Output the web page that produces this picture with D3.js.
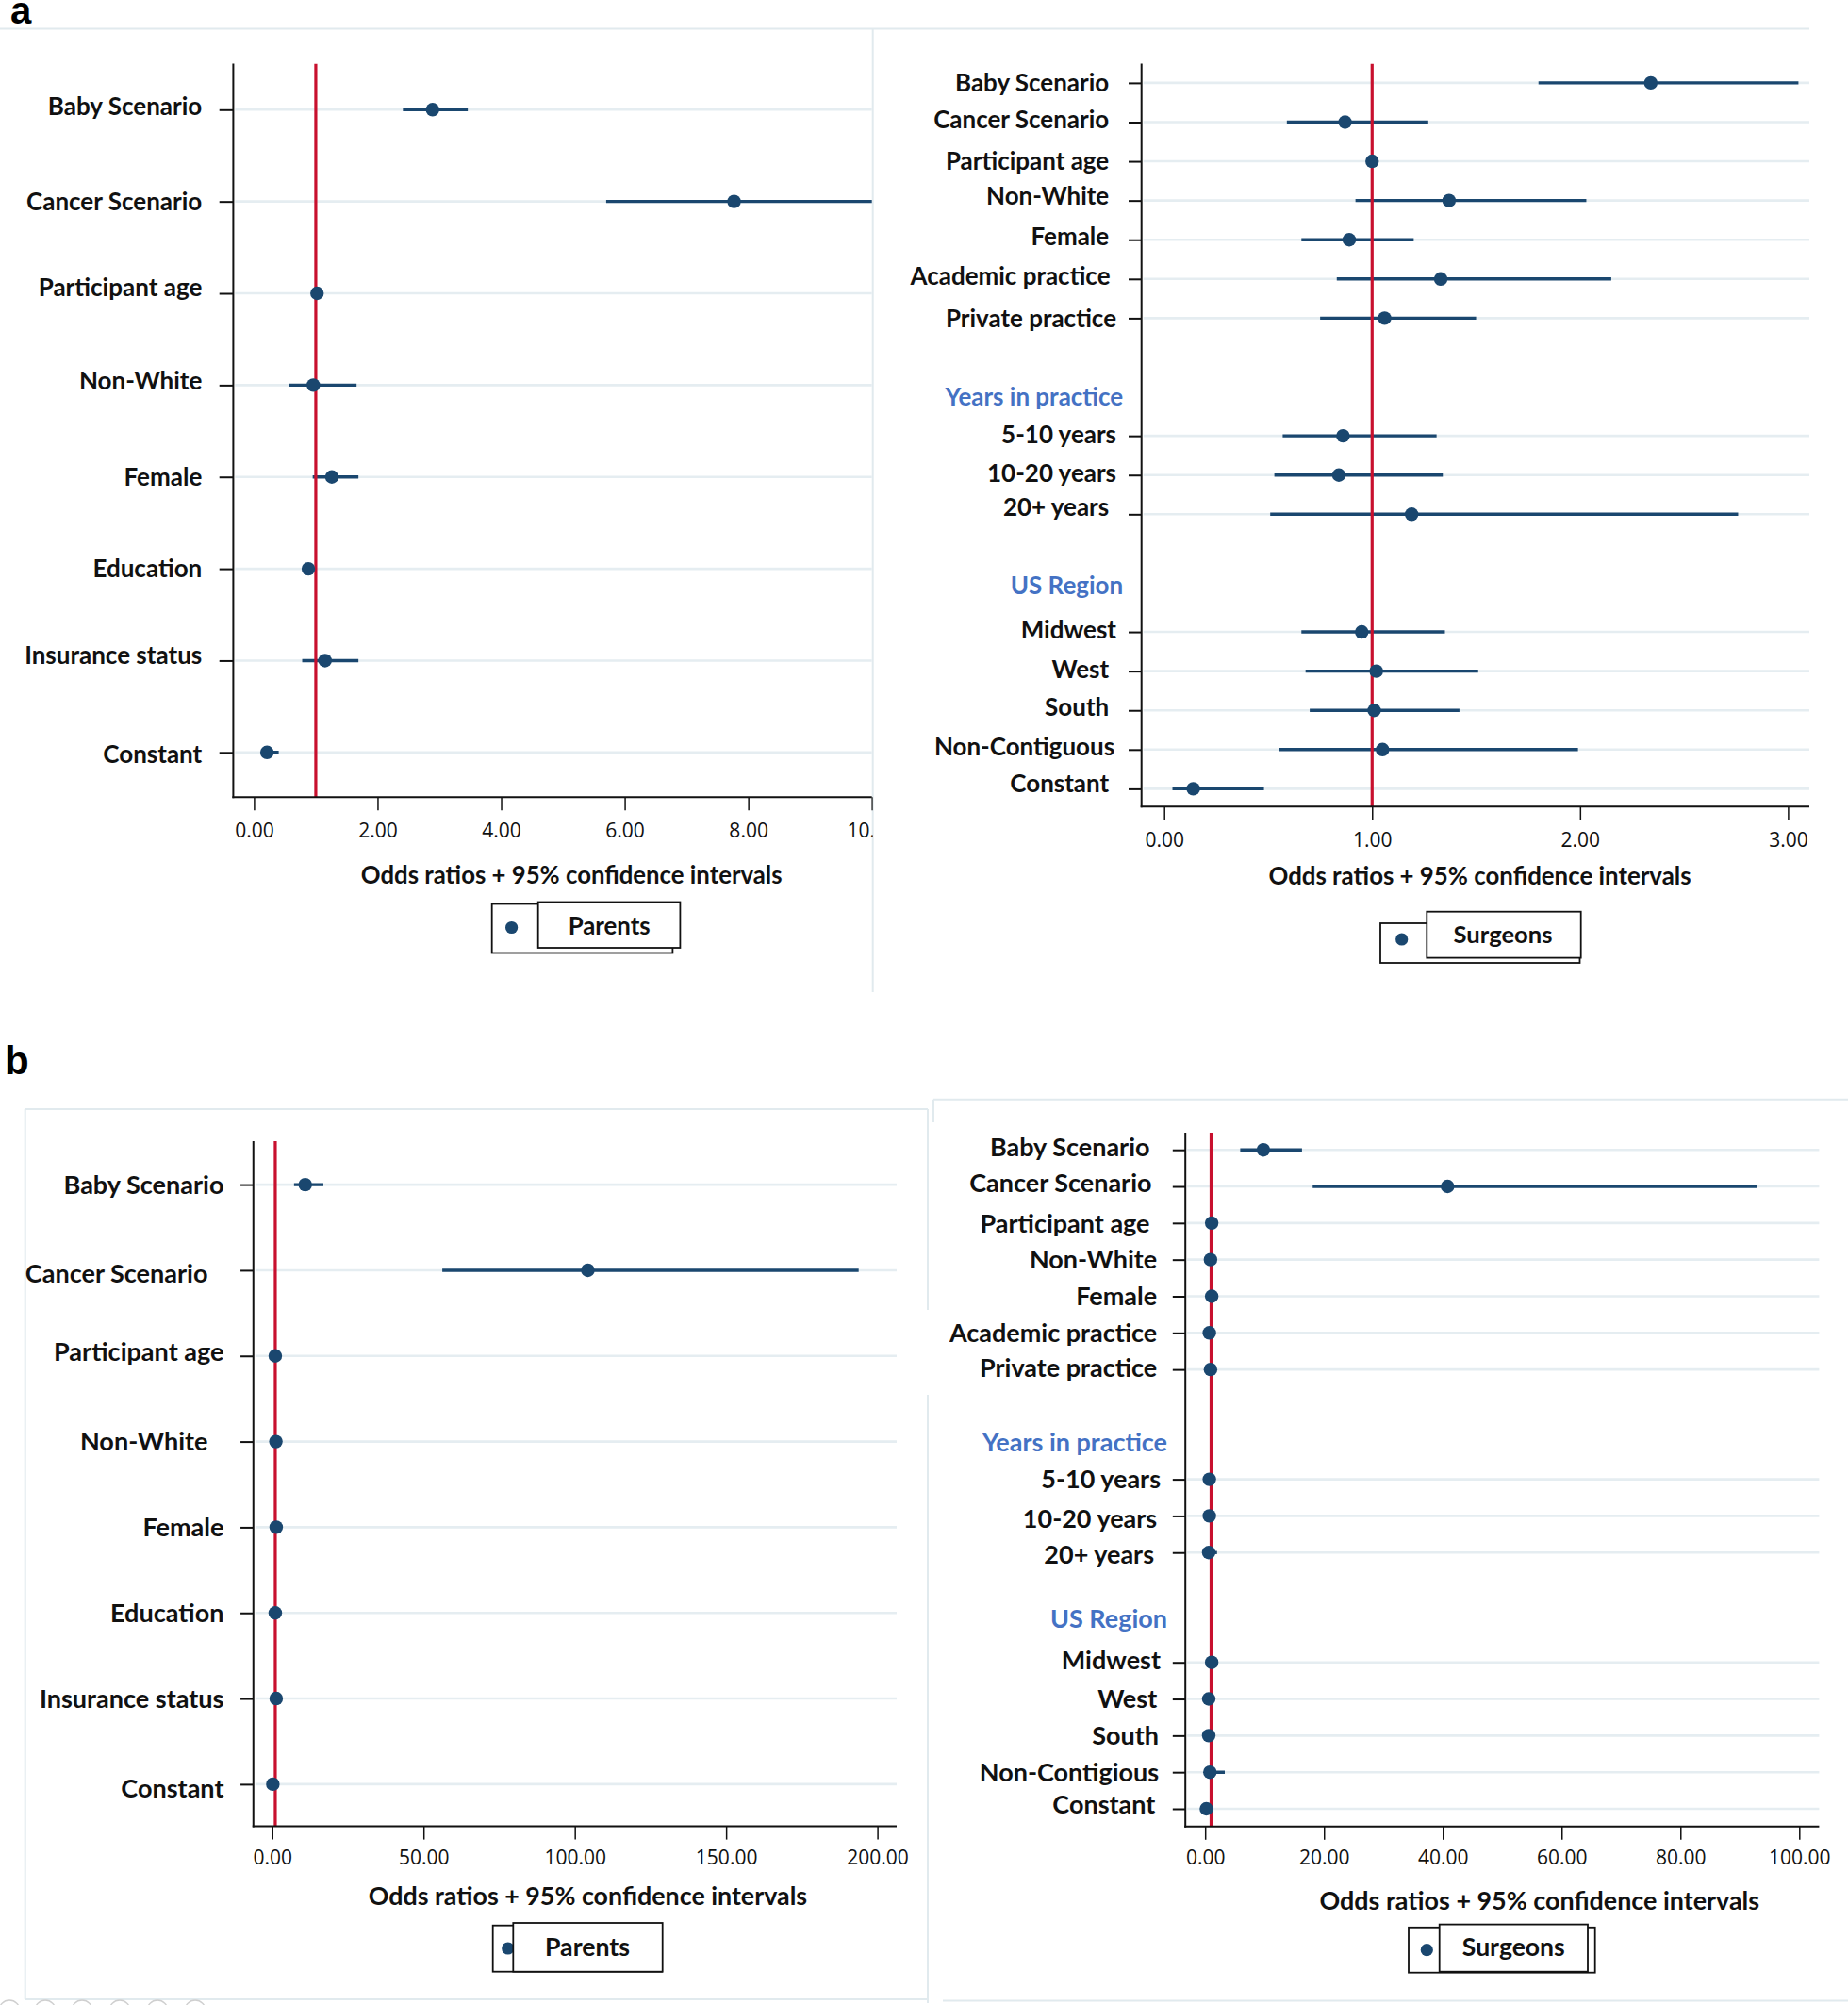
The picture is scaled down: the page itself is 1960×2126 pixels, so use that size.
<!DOCTYPE html>
<html>
<head>
<meta charset="utf-8">
<script src="https://cdn.jsdelivr.net/npm/d3@7"></script>
<style>
  html, body { margin: 0; padding: 0; background: #ffffff; }
  svg { display: block; }
</style>
</head>
<body>
<script>
// ---------------- DATA ----------------
const parentsLabels = ["Baby Scenario", "Cancer Scenario", "Participant age", "Non-White", "Female", "Education", "Insurance status", "Constant"];

// Panel a (Parents)
const parentsA_or = [2.89, 7.77, 1.02, 0.96, 1.26, 0.88, 1.15, 0.21];
const parentsA_lo = [2.41, 5.70, 0.99, 0.57, 0.95, 0.80, 0.78, 0.12];
const parentsA_hi = [3.46, 10.60, 1.05, 1.66, 1.69, 0.96, 1.69, 0.40];
const parentsA_ticks = [0, 2, 4, 6, 8, 10];

// Panel b (Parents)
const parentsB_or = [10.9, 104.3, 1.0, 1.2, 1.3, 1.0, 1.3, 0.2];
const parentsB_lo = [7.2, 56.2, 0.9, 0.7, 0.9, 0.8, 0.8, 0.1];
const parentsB_hi = [16.9, 193.8, 1.1, 2.0, 1.8, 1.2, 1.9, 0.5];
const parentsB_ticks = [0, 50, 100, 150, 200];

const surgeonsLabelsA = ["Baby Scenario", "Cancer Scenario", "Participant age", "Non-White", "Female", "Academic practice", "Private practice", "", "Years in practice", "5-10 years", "10-20 years", "20+ years", "", "US Region", "Midwest", "West", "South", "Non-Contiguous", "Constant"];
const surgeonsLabelsB = ["Baby Scenario", "Cancer Scenario", "Participant age", "Non-White", "Female", "Academic practice", "Private practice", "", "Years in practice", "5-10 years", "10-20 years", "20+ years", "", "US Region", "Midwest", "West", "South", "Non-Contigious", "Constant"];
const groupHeadings = ["Years in practice", "US Region"];

// Panel a (Surgeons)
const surgeonsA_or = [2.34, 0.87, 1.00, 1.37, 0.89, 1.33, 1.06, null, null, 0.86, 0.84, 1.19, null, null, 0.95, 1.02, 1.01, 1.05, 0.14];
const surgeonsA_lo = [1.80, 0.59, 0.98, 0.92, 0.66, 0.83, 0.75, null, null, 0.57, 0.53, 0.51, null, null, 0.66, 0.68, 0.70, 0.55, 0.04];
const surgeonsA_hi = [3.05, 1.27, 1.02, 2.03, 1.20, 2.15, 1.50, null, null, 1.31, 1.34, 2.76, null, null, 1.35, 1.51, 1.42, 1.99, 0.48];
const surgeonsA_ticks = [0, 1, 2, 3];

// Panel b (Surgeons)
const surgeonsB_or = [9.8, 40.8, 1.1, 0.9, 1.1, 0.7, 0.9, null, null, 0.7, 0.7, 0.6, null, null, 1.1, 0.6, 0.6, 0.8, 0.2];
const surgeonsB_lo = [5.9, 18.1, 0.9, 0.5, 0.7, 0.4, 0.5, null, null, 0.4, 0.4, 0.2, null, null, 0.6, 0.3, 0.3, 0.3, 0.05];
const surgeonsB_hi = [16.3, 92.9, 1.3, 1.6, 1.6, 1.3, 1.6, null, null, 1.2, 1.2, 2.0, null, null, 1.8, 1.2, 1.2, 3.3, 0.6];
const surgeonsB_ticks = [0, 20, 40, 60, 80, 100];

const referenceOR = 1;
const axisTitle = "Odds ratios + 95% confidence intervals";

// ---------------- STYLE ----------------
const NAVY = "#1a476f";
const RED = "#c8102e";
const GRID = "#e5edf1";
const FAINT = "#e1eaee";
const HEAD = "#4472c4";
const LABEL_FONT = "Lato, 'Open Sans', sans-serif";
const TICK_FONT = "'Open Sans', 'DejaVu Sans', sans-serif";

const W = 1960, H = 2126;
const svg = d3.select("body").append("svg").attr("width", W).attr("height", H);
svg.append("rect").attr("width", W).attr("height", H).attr("fill", "#fff");

// faint frame lines of the original figure
const frame = svg.append("g").attr("stroke", FAINT).attr("stroke-width", 2).attr("fill", "none");
[
  [0, 30.5, 1919, 30.5],
  [925.7, 31, 925.7, 1052],
  [26.7, 1176, 984, 1176],
  [26.7, 1176, 26.7, 2120],
  [26.7, 2120, 984, 2120],
  [984, 1176, 984, 1389],
  [984, 1479, 984, 2124],
  [990, 1165.7, 1960, 1165.7],
  [990, 1165.7, 990, 1190],
  [1000, 2121.5, 1960, 2121.5]
].forEach(s => frame.append("line").attr("x1", s[0]).attr("y1", s[1]).attr("x2", s[2]).attr("y2", s[3]));
// partial circles at the bottom-left edge
[10, 48, 87, 127, 167, 207].forEach(cx => {
  svg.append("circle").attr("cx", cx).attr("cy", 2132).attr("r", 11)
    .attr("fill", "none").attr("stroke", "#cfcfcf").attr("stroke-width", 1.3);
});

// panel letters
svg.append("text").attr("x", 11).attr("y", 25).text("a")
  .attr("font-family", "'Liberation Sans', Arial, sans-serif").attr("font-weight", "bold").attr("font-size", 40).attr("fill", "#000");
svg.append("text").attr("x", 5).attr("y", 1138.5).text("b")
  .attr("font-family", "'Liberation Sans', Arial, sans-serif").attr("font-weight", "bold").attr("font-size", 42).attr("fill", "#000");

// measure helper: font size so that text reaches target width
const meas = svg.append("text").attr("font-family", LABEL_FONT).attr("font-weight", "bold").attr("font-size", 100).attr("x", -5000).attr("y", -5000);
function fitSize(str, target) {
  meas.text(str);
  const w = meas.node().getComputedTextLength();
  return 100 * target / w;
}

const panels = [
  {
    id: "aL", labels: parentsLabels, or: parentsA_or, lo: parentsA_lo, hi: parentsA_hi, ticks: parentsA_ticks, domain: [0, 10], legend: "Parents",
    L: {
      yAxisX: 247.4, x0: 269.4, x1: 924.7, right: 924.7, top: 67.6, bottom: 845.2, yFirst: 116.3, yLast: 797.8,
      labelRight: 214.3, labelW: 163.5, tickLen: 14.7, tickBase: 888.3, titleCx: 606.2, titleBase: 937, titleW: 447,
      clip: [0, 0, 925.7, 1060],
      leg: { outer: [521.7, 958.5, 713.4, 1010.5], inner: [570.7, 956.5, 721.4, 1005], dot: [542.6, 983.5], tx: 646.2, ty: 991, tw: 87 },
      dx: {}, dy: { "Baby Scenario": -3.4, "Participant age": -6.8, "Non-White": -4.7, "Insurance status": -5.4, "Constant": 1.4 }
    }
  },
  {
    id: "aR", labels: surgeonsLabelsA, or: surgeonsA_or, lo: surgeonsA_lo, hi: surgeonsA_hi, ticks: surgeonsA_ticks, domain: [0, 3], legend: "Surgeons",
    L: {
      yAxisX: 1210.7, x0: 1234.7, x1: 1896.4, right: 1919, top: 67.6, bottom: 855.3, yFirst: 87.9, yLast: 836.4,
      labelRight: 1176.2, labelW: 163.3, tickLen: 13.7, tickBase: 898.3, titleCx: 1569.5, titleBase: 937.5, titleW: 448.3,
      clip: null,
      leg: { outer: [1464, 979, 1675.5, 1021], inner: [1513.3, 966.7, 1676.7, 1015.6], dot: [1486.7, 996], tx: 1594, ty: 1000, tw: 105 },
      dx: { "Academic practice": 1.3, "Private practice": 7.8, "Years in practice": 15, "5-10 years": 7.8, "10-20 years": 7.8, "US Region": 15, "Midwest": 7.8, "Non-Contiguous": 5.9 },
      dy: { "Cancer Scenario": -2.7, "Non-White": -4.7, "Female": -4, "Academic practice": -2.7, "5-10 years": -2, "10-20 years": -2, "20+ years": -7.4, "US Region": -8, "Midwest": -2, "West": -2, "South": -3.4, "Non-Contiguous": -2.7, "Constant": -6 }
    }
  },
  {
    id: "bL", labels: parentsLabels, or: parentsB_or, lo: parentsB_lo, hi: parentsB_hi, ticks: parentsB_ticks, domain: [0, 200], legend: "Parents",
    L: {
      yAxisX: 268.75, x0: 288.75, x1: 930.6, right: 951, top: 1210, bottom: 1936.6, yFirst: 1256.1, yLast: 1891.9,
      labelRight: 237.5, labelW: 170, tickLen: 13.7, tickBase: 1977.3, titleCx: 623.4, titleBase: 2019.5, titleW: 465.6,
      clip: null,
      leg: { outer: [522.7, 2041.7, 702, 2090.7], inner: [544.3, 2039, 702.7, 2090.7], dot: [538.75, 2066], tx: 623, ty: 2074, tw: 90 },
      dx: { "Cancer Scenario": -17, "Non-White": -17 },
      dy: { "Cancer Scenario": 3.3, "Participant age": -4, "Constant": 4.7 }
    }
  },
  {
    id: "bR", labels: surgeonsLabelsB, or: surgeonsB_or, lo: surgeonsB_lo, hi: surgeonsB_hi, ticks: surgeonsB_ticks, domain: [0, 100], legend: "Surgeons",
    L: {
      yAxisX: 1257.2, x0: 1278.2, x1: 1908.3, right: 1929.4, top: 1201, bottom: 1936.8, yFirst: 1219.2, yLast: 1918,
      labelRight: 1227.2, labelW: 169.6, tickLen: 13.4, tickBase: 1977.5, titleCx: 1632.8, titleBase: 2025, titleW: 466.8,
      clip: null,
      leg: { outer: [1494, 2043.8, 1691.7, 2091.7], inner: [1526.7, 2040.6, 1684, 2090.7], dot: [1513.3, 2067.7], tx: 1605.3, ty: 2074.3, tw: 109 },
      dx: { "Baby Scenario": -7.7, "Cancer Scenario": -5.7, "Participant age": -7.7, "Years in practice": 10.8, "5-10 years": 3.8, "20+ years": -3.2, "US Region": 10.8, "Midwest": 3.8, "South": 1.9, "Non-Contigious": 1.9, "Constant": -1.9 },
      dy: { "Baby Scenario": -2.5, "Cancer Scenario": -3.8, "Private practice": -2, "10-20 years": 3, "20+ years": 2, "US Region": -8, "Midwest": -2.5, "Constant": -4.4 }
    }
  }
];

function drawPanel(p) {
  const L = p.L;
  let g = svg.append("g");
  if (L.clip) {
    svg.append("clipPath").attr("id", "pc-" + p.id).append("rect")
      .attr("x", L.clip[0]).attr("y", L.clip[1]).attr("width", L.clip[2] - L.clip[0]).attr("height", L.clip[3] - L.clip[1]);
    g.attr("clip-path", `url(#pc-${p.id})`);
  }
  svg.append("clipPath").attr("id", "mc-" + p.id).append("rect")
    .attr("x", L.yAxisX).attr("y", L.top).attr("width", L.right - L.yAxisX).attr("height", L.bottom - L.top);

  const x = d3.scaleLinear().domain(p.domain).range([L.x0, L.x1]);
  const y = d3.scalePoint().domain(d3.range(p.labels.length)).range([L.yFirst, L.yLast]);

  const rows = p.labels.map((lab, i) => ({ lab, i, or: p.or[i], lo: p.lo[i], hi: p.hi[i] }));
  const dataRows = rows.filter(r => r.or != null);

  // gridlines
  g.append("g").selectAll("line").data(dataRows).join("line")
    .attr("x1", L.yAxisX + 2).attr("x2", L.right)
    .attr("y1", d => y(d.i)).attr("y2", d => y(d.i))
    .attr("stroke", GRID).attr("stroke-width", 2.6);

  const mg = g.append("g").attr("clip-path", `url(#mc-${p.id})`);
  // CI
  mg.append("g").selectAll("line").data(dataRows).join("line")
    .attr("x1", d => x(d.lo)).attr("x2", d => x(d.hi))
    .attr("y1", d => y(d.i)).attr("y2", d => y(d.i))
    .attr("stroke", NAVY).attr("stroke-width", 3.4);
  // reference line
  mg.append("line").attr("x1", x(referenceOR)).attr("x2", x(referenceOR))
    .attr("y1", L.top).attr("y2", L.bottom)
    .attr("stroke", RED).attr("stroke-width", 3.2);
  // points
  mg.append("g").selectAll("circle").data(dataRows).join("circle")
    .attr("cx", d => x(d.or)).attr("cy", d => y(d.i)).attr("r", 7.2)
    .attr("fill", NAVY);

  // y axis ticks
  const yAxis = d3.axisLeft(y).tickValues(dataRows.map(d => d.i)).tickSize(L.tickLen).tickFormat("");
  const ya = g.append("g").attr("transform", `translate(${L.yAxisX},0)`).call(yAxis);
  ya.select(".domain").remove();
  ya.selectAll(".tick line").attr("stroke", "#111").attr("stroke-width", 2);
  g.append("line").attr("x1", L.yAxisX).attr("x2", L.yAxisX).attr("y1", L.top).attr("y2", L.bottom + 1)
    .attr("stroke", "#111").attr("stroke-width", 2);

  // x axis
  const xAxis = d3.axisBottom(x).tickValues(p.ticks).tickFormat(d3.format(".2f")).tickSize(14);
  const xa = g.append("g").attr("transform", `translate(0,${L.bottom})`).call(xAxis);
  xa.select(".domain").remove();
  xa.selectAll(".tick line").attr("stroke", "#111").attr("stroke-width", 1.5);
  xa.selectAll(".tick text").attr("y", L.tickBase - L.bottom).attr("dy", null)
    .attr("font-family", TICK_FONT).attr("font-size", 21).attr("fill", "#111");
  g.append("line").attr("x1", L.yAxisX - 1).attr("x2", L.right).attr("y1", L.bottom).attr("y2", L.bottom)
    .attr("stroke", "#111").attr("stroke-width", 2);

  // category labels
  const fs = fitSize("Baby Scenario", L.labelW);
  g.append("g").selectAll("text").data(rows.filter(r => r.lab !== "")).join("text")
    .attr("x", d => L.labelRight + (L.dx[d.lab] || 0))
    .attr("y", d => y(d.i) + (L.dy[d.lab] || 0))
    .attr("dy", "0.36em")
    .attr("text-anchor", "end")
    .attr("font-family", LABEL_FONT).attr("font-weight", "bold").attr("font-size", fs)
    .attr("fill", d => groupHeadings.includes(d.lab) ? HEAD : "#111")
    .text(d => d.lab);

  // axis title
  g.append("text").attr("x", L.titleCx).attr("y", L.titleBase).attr("text-anchor", "middle")
    .attr("font-family", LABEL_FONT).attr("font-weight", "bold").attr("font-size", fitSize(axisTitle, L.titleW))
    .attr("fill", "#111").text(axisTitle);

  // legend
  const lg = svg.append("g");
  const o = L.leg.outer, inn = L.leg.inner;
  lg.append("rect").attr("x", o[0]).attr("y", o[1]).attr("width", o[2] - o[0]).attr("height", o[3] - o[1])
    .attr("fill", "#fff").attr("stroke", "#111").attr("stroke-width", 1.8);
  lg.append("circle").attr("cx", L.leg.dot[0]).attr("cy", L.leg.dot[1]).attr("r", 6.6).attr("fill", NAVY);
  lg.append("rect").attr("x", inn[0]).attr("y", inn[1]).attr("width", inn[2] - inn[0]).attr("height", inn[3] - inn[1])
    .attr("fill", "#fff").attr("stroke", "#111").attr("stroke-width", 1.8);
  lg.append("text").attr("x", L.leg.tx).attr("y", L.leg.ty).attr("text-anchor", "middle")
    .attr("font-family", LABEL_FONT).attr("font-weight", "bold").attr("font-size", fitSize(p.legend, L.leg.tw))
    .attr("fill", "#111").text(p.legend);
}

panels.forEach(drawPanel);
meas.remove();
</script>
</body>
</html>
